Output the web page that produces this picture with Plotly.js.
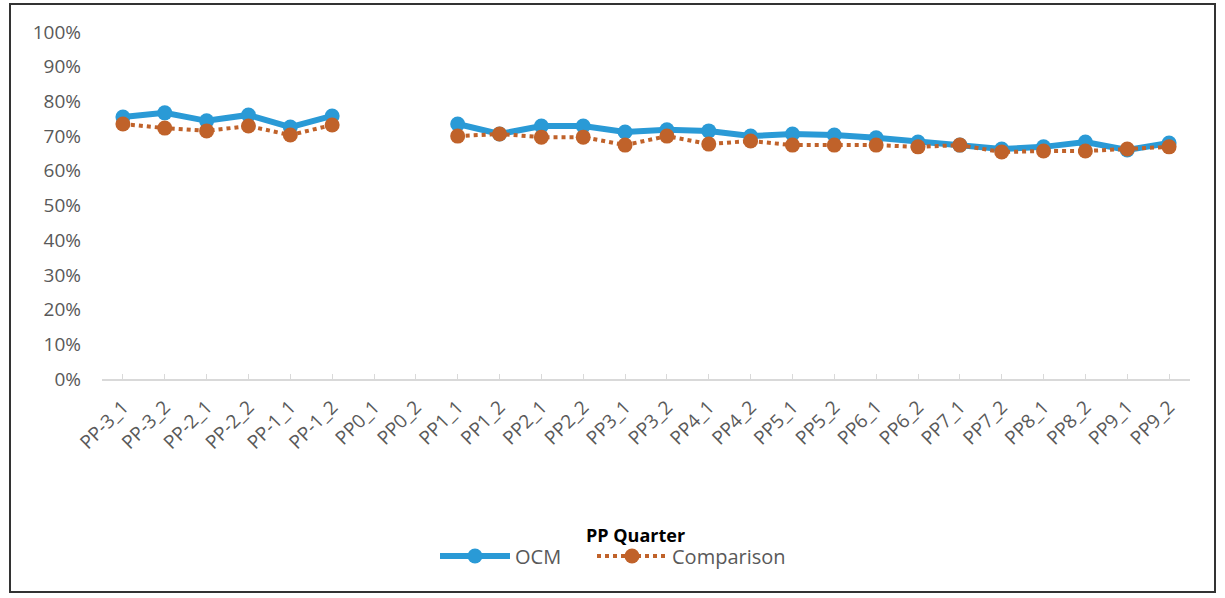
<!DOCTYPE html>
<html>
<head>
<meta charset="utf-8">
<script src="https://cdn.plot.ly/plotly-3.0.1.min.js"></script>
<style>
html,body{margin:0;padding:0;background:#fff;}
#chart{width:1225px;height:598px;}
</style>
</head>
<body>
<div id="chart"></div>
<script>
const categories = ["PP-3_1","PP-3_2","PP-2_1","PP-2_2","PP-1_1","PP-1_2","PP0_1","PP0_2",
  "PP1_1","PP1_2","PP2_1","PP2_2","PP3_1","PP3_2","PP4_1","PP4_2","PP5_1","PP5_2",
  "PP6_1","PP6_2","PP7_1","PP7_2","PP8_1","PP8_2","PP9_1","PP9_2"];
const ocm = [0.755,0.767,0.744,0.761,0.726,0.758,null,null,
  0.735,0.706,0.729,0.729,0.712,0.718,0.715,0.700,0.706,0.703,
  0.695,0.683,0.674,0.663,0.669,0.683,0.660,0.680];
const comparison = [0.735,0.723,0.715,0.729,0.703,0.732,null,null,
  0.700,0.706,0.697,0.697,0.674,0.700,0.677,0.686,0.674,0.674,
  0.674,0.669,0.674,0.654,0.657,0.657,0.663,0.669];
const yTicks = [0,0.1,0.2,0.3,0.4,0.5,0.6,0.7,0.8,0.9,1.0];

const font = "Open Sans, Liberation Sans, sans-serif";

const traces = [
  {x: categories, y: ocm, name: "OCM", type: "scatter", mode: "lines+markers",
   connectgaps: false, legend: "legend",
   line: {color: "#2A9AD6", width: 6},
   marker: {color: "#2A9AD6", size: 15}},
  {x: categories, y: comparison, name: "Comparison", type: "scatter", mode: "lines+markers",
   connectgaps: false, legend: "legend2",
   line: {color: "#C0622A", width: 4, dash: "dot"},
   marker: {color: "#C0622A", size: 15}}
];

const legendBase = {orientation: "h", xanchor: "left", y: -0.51, yanchor: "middle",
  font: {size: 20, color: "#595959"}, itemwidth: 70, bgcolor: "rgba(0,0,0,0)"};

const layout = {
  width: 1225, height: 598,
  margin: {l: 102, r: 35, t: 32, b: 219},
  paper_bgcolor: "#fff", plot_bgcolor: "#fff",
  font: {family: font, color: "#595959", size: 16},
  showlegend: true,
  legend: Object.assign({}, legendBase, {x: (435-102)/1088}),
  legend2: Object.assign({}, legendBase, {x: (592-102)/1088}),
  xaxis: {
    type: "category", categoryorder: "array", categoryarray: categories,
    range: [-0.5, categories.length - 0.5],
    tickangle: -45, tickfont: {size: 19, color: "#595959"},
    ticklabelstandoff: 8,
    showgrid: false, zeroline: false,
    showline: true, linecolor: "#D9D9D9", linewidth: 1.5,
    ticks: "inside", ticklen: 5, tickcolor: "#D9D9D9",
    title: {text: ""}
  },
  yaxis: {
    range: [0, 1.0], tickvals: yTicks, tickformat: ".0%",
    showgrid: false, zeroline: false, showline: false, ticks: "",
    ticklabelstandoff: 20,
    tickfont: {size: 19, color: "#595959"}
  },
  annotations: [
    {text: "<b>PP Quarter</b>", xref: "paper", yref: "paper", x: 0.49, y: -0.45,
     xanchor: "center", yanchor: "middle", showarrow: false,
     font: {family: font, size: 18, color: "#000"}}
  ],
  shapes: [
    {type: "rect", xref: "paper", yref: "paper",
     x0: (10-102)/1088, x1: (1215-102)/1088, y0: (379-592)/347, y1: (379-4)/347,
     line: {color: "#333", width: 2}, fillcolor: "rgba(0,0,0,0)"}
  ]
};

Plotly.newPlot("chart", traces, layout, {displayModeBar: false, staticPlot: true});
</script>
</body>
</html>
